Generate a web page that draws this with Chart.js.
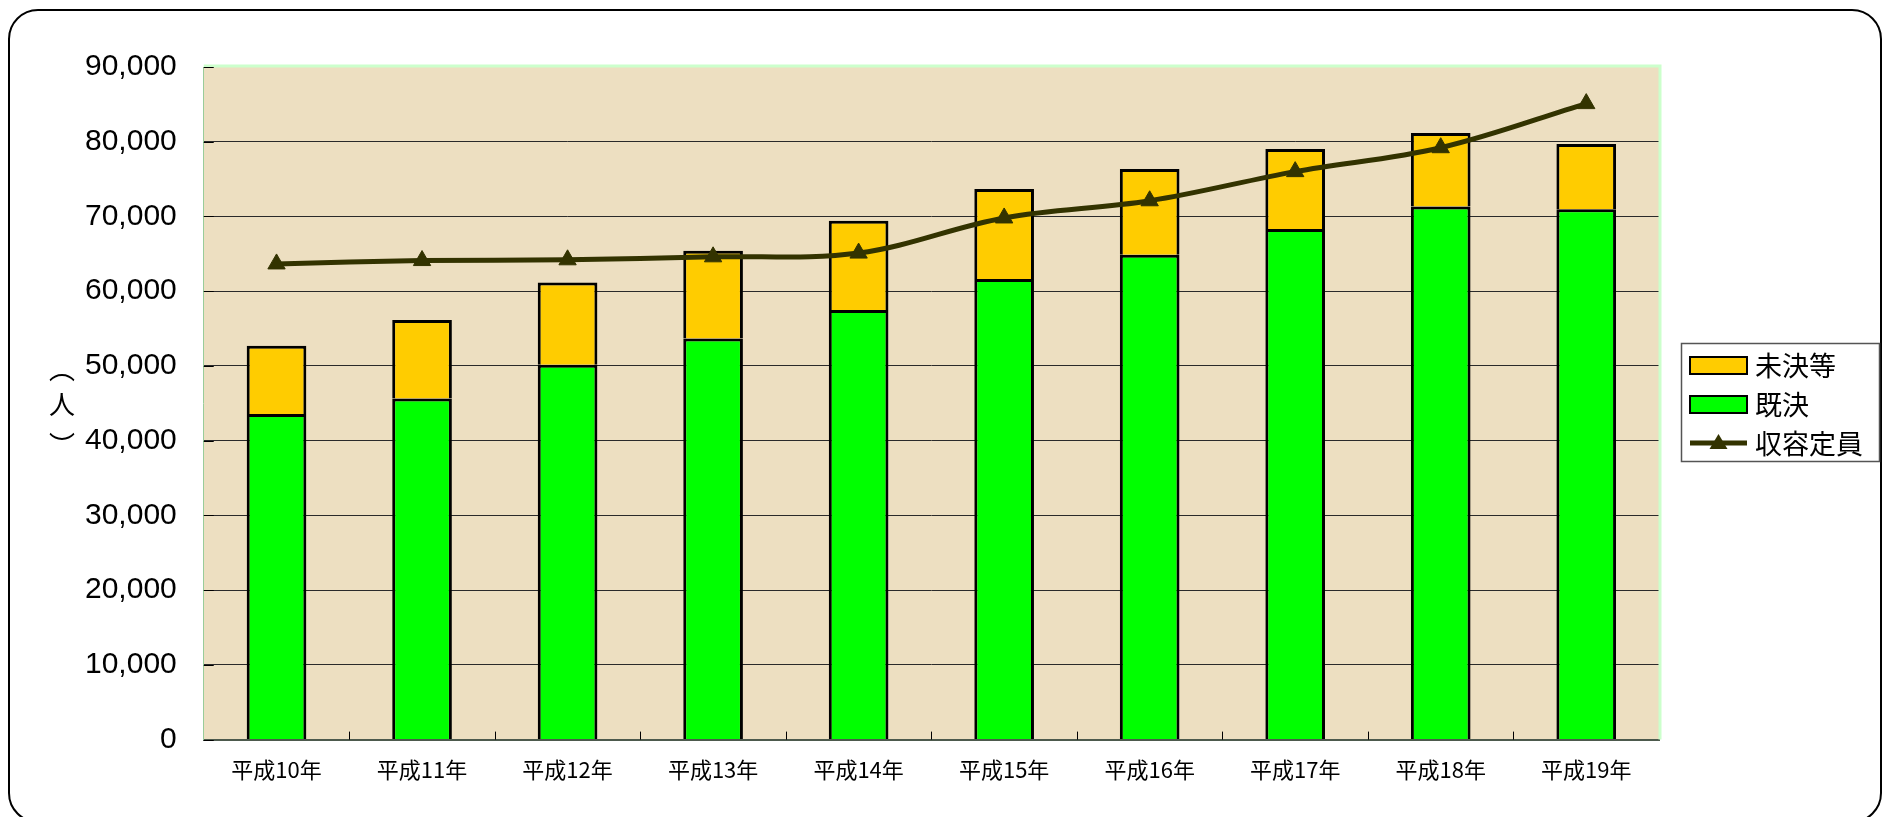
<!DOCTYPE html>
<html lang="ja">
<head>
<meta charset="utf-8">
<title>収容人員と収容定員の推移</title>
<script src="https://cdn.jsdelivr.net/npm/chart.js@4.4.0/dist/chart.umd.min.js"></script>
<style>
  html, body { margin: 0; padding: 0; background: #fff; }
  #wrap { position: relative; width: 1888px; height: 817px; overflow: hidden; }
  #frame {
    position: absolute; left: 8px; top: 9px; width: 1874px; height: 814px;
    border: 2px solid #000; border-radius: 30px; box-sizing: border-box;
  }
  #chart { position: absolute; left: 0; top: 0; }
</style>
</head>
<body>
<div id="wrap">
  <div id="frame"></div>
  <canvas id="chart" width="1888" height="817"></canvas>
</div>
<script>
// ─── データ ────────────────────────────
const years   = ["平成10年", "平成11年", "平成12年", "平成13年", "平成14年",
                 "平成15年", "平成16年", "平成17年", "平成18年", "平成19年"];
const kiketsu = [43560, 45650, 50160, 53680, 57480, 61630, 64890, 68330, 71350, 70950]; // 既決
const miketsu = [9140, 10490, 11020, 11740, 11960, 12050, 11470, 10700, 9830, 8750];    // 未決等
const teiin   = [63650, 64100, 64200, 64600, 65100, 69800, 72100, 76000, 79200, 85100]; // 収容定員
const yMin = 0, yMax = 90000, yStep = 10000;
const legendOrder = [1, 0, 2]; // 未決等, 既決, 収容定員

const lineColor = "#333300";
const plotBg    = "#eddfc1";
const cjkFont   = "'Noto Sans CJK JP'";

// ─── 背景・枠・目盛り・単位・凡例 ─────────────────
const deco = {
  id: "deco",
  beforeDraw(chart) {
    const { ctx, chartArea: a } = chart;
    ctx.save();
    ctx.fillStyle = plotBg;
    ctx.fillRect(a.left, a.top, a.width, a.height);
    ctx.restore();
  },
  beforeDatasetsDraw(chart) {
    const { ctx, chartArea: a, scales } = chart;
    ctx.save();
    // 上と右の薄緑の枠
    ctx.strokeStyle = "#ccffcc";
    ctx.lineWidth = 3;
    ctx.beginPath();
    ctx.moveTo(a.left, a.top - 1);
    ctx.lineTo(a.right + 1, a.top - 1);
    ctx.lineTo(a.right + 1, a.bottom);
    ctx.stroke();
    // x軸の内向き目盛り（カテゴリ境界）
    ctx.strokeStyle = "#000";
    ctx.lineWidth = 1;
    const x = scales.x;
    for (let i = 1; i < years.length; i++) {
      const px = Math.round((x.getPixelForValue(i - 1) + x.getPixelForValue(i)) / 2) + 0.5;
      ctx.beginPath(); ctx.moveTo(px, a.bottom); ctx.lineTo(px, a.bottom - 8); ctx.stroke();
    }
    // y軸の内向き目盛り
    const y = scales.y;
    y.ticks.forEach(t => {
      const py = Math.round(y.getPixelForValue(t.value)) + 0.5;
      ctx.beginPath(); ctx.moveTo(a.left, py); ctx.lineTo(a.left + 10, py); ctx.stroke();
    });
    ctx.restore();
  },
  afterDraw(chart) {
    const { ctx, chartArea: a } = chart;
    ctx.save();
    // 縦書きの単位（人）
    ctx.fillStyle = "#000";
    ctx.font = "26px " + cjkFont;
    ctx.textAlign = "center";
    ctx.textBaseline = "middle";
    const cy = (a.top + a.bottom) / 2;
    ctx.fillText("︵", 62, cy - 34);
    ctx.fillText("人", 62, cy + 1);
    ctx.fillText("︶", 62, cy + 42);

    // 凡例
    const lx = a.right + 22, ly = 343, lw = 198, lh = 118;
    ctx.strokeStyle = "#555";
    ctx.lineWidth = 1.5;
    ctx.strokeRect(lx + 0.5, ly + 0.5, lw, lh);
    ctx.font = "27px " + cjkFont;
    ctx.textAlign = "left";
    legendOrder.forEach((di, row) => {
      const ds = chart.data.datasets[di];
      const rowY = ly + 22 + row * 39;
      const sx = lx + 9, sw = 57;
      if (ds.type === "line") {
        ctx.strokeStyle = ds.borderColor;
        ctx.lineWidth = 5;
        ctx.beginPath(); ctx.moveTo(sx, rowY); ctx.lineTo(sx + sw, rowY); ctx.stroke();
        ctx.fillStyle = ds.backgroundColor;
        ctx.beginPath();
        ctx.moveTo(sx + sw / 2, rowY - 9);
        ctx.lineTo(sx + sw / 2 + 9, rowY + 6);
        ctx.lineTo(sx + sw / 2 - 9, rowY + 6);
        ctx.closePath(); ctx.fill();
      } else {
        ctx.fillStyle = ds.backgroundColor;
        ctx.fillRect(sx, rowY - 8, sw, 17);
        ctx.strokeStyle = "#000";
        ctx.lineWidth = 2;
        ctx.strokeRect(sx, rowY - 8, sw, 17);
      }
      ctx.fillStyle = "#000";
      ctx.fillText(ds.label, sx + sw + 8, rowY + 1);
    });
    ctx.restore();
  }
};

// ─── グラフ本体 ─────────────────
new Chart(document.getElementById("chart"), {
  type: "bar",
  data: {
    labels: years,
    datasets: [
      {
        label: "既決",
        data: kiketsu,
        backgroundColor: "#00ff00",
        borderColor: "#000",
        borderWidth: 3,
        stack: "s",
        order: 2
      },
      {
        label: "未決等",
        data: miketsu,
        backgroundColor: "#ffcc00",
        borderColor: "#000",
        borderWidth: 3,
        stack: "s",
        order: 2
      },
      {
        type: "line",
        label: "収容定員",
        data: teiin,
        borderColor: lineColor,
        backgroundColor: lineColor,
        borderWidth: 5,
        pointStyle: "triangle",
        pointRadius: 10,
        pointBorderWidth: 1,
        tension: 0.35,
        order: 1
      }
    ]
  },
  options: {
    responsive: false,
    animation: false,
    barPercentage: 0.41,
    categoryPercentage: 1,
    layout: { padding: { left: 58, right: 229, top: 67, bottom: 17 } },
    scales: {
      x: {
        stacked: true,
        grid: { color: "transparent", drawTicks: false },
        border: { color: "#4d5a4d", width: 2 },
        ticks: {
          padding: 17,
          color: "#000",
          font: { family: cjkFont, size: 22 }
        }
      },
      y: {
        stacked: true,
        min: yMin,
        max: yMax,
        grid: {
          drawTicks: false,
          lineWidth: 1,
          color: c => (c.tick.value === yMin || c.tick.value === yMax) ? "transparent" : "#2a2a2a"
        },
        border: { color: "#99cc99", width: 1 },
        ticks: {
          stepSize: yStep,
          padding: 27,
          color: "#000",
          font: { family: "'Liberation Sans'", size: 30 },
          callback: v => v.toLocaleString("en-US")
        }
      }
    },
    plugins: {
      tooltip: { enabled: false },
      legend: { display: false }
    }
  },
  plugins: [deco]
});
</script>
</body>
</html>
